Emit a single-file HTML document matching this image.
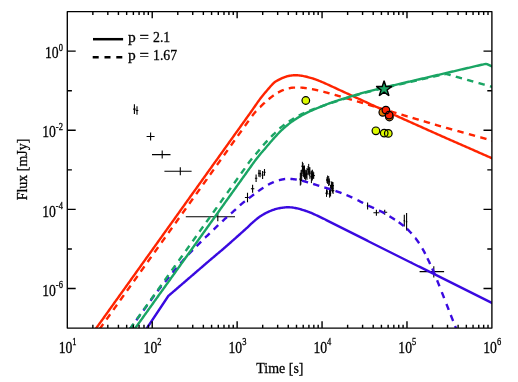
<!DOCTYPE html>
<html><head><meta charset="utf-8"><title>Light curves</title>
<style>html,body{margin:0;padding:0;background:#fff}svg{display:block}</style></head>
<body>
<svg width="518" height="382" viewBox="0 0 518 382">
<rect width="518" height="382" fill="#fff"/>
<defs><clipPath id="c"><rect x="67.30" y="11.57" width="424.60" height="316.53"/></clipPath></defs>
<g stroke="#000" stroke-width="1.0" fill="none">
<path d="M299.1 179.1H301.5M300.3 172.7V185.6"/>
<path d="M299.9 180.5H301.9M300.9 176.3V184.7"/>
<path d="M300.5 175.1H302.9M301.7 169.7V180.6"/>
<path d="M300.1 173.9H302.1M301.1 170.1V177.6"/>
<path d="M301.2 166.2H303.6M302.4 161.8V170.6"/>
<path d="M302.0 166.4H304.0M303.0 163.0V169.9"/>
<path d="M302.2 171.7H304.6M303.4 166.0V177.3"/>
<path d="M301.8 170.3H303.8M302.8 166.5V174.0"/>
<path d="M303.3 172.2H305.7M304.5 165.5V178.9"/>
<path d="M302.9 171.4H304.9M303.9 166.8V176.0"/>
<path d="M304.5 175.1H306.9M305.7 169.7V180.6"/>
<path d="M304.1 176.1H306.1M305.1 173.0V179.3"/>
<path d="M305.8 173.9H308.2M307.0 168.0V179.8"/>
<path d="M305.4 174.3H307.4M306.4 170.2V178.4"/>
<path d="M307.5 169.4H309.9M308.7 163.9V174.8"/>
<path d="M307.1 169.6H309.1M308.1 166.0V173.1"/>
<path d="M308.7 173.1H311.1M309.9 167.2V178.9"/>
<path d="M308.3 171.7H310.3M309.3 167.2V176.2"/>
<path d="M310.2 176.8H312.6M311.4 170.6V183.1"/>
<path d="M311.0 176.6H313.0M312.0 172.3V180.9"/>
<path d="M311.2 174.8H313.6M312.4 169.7V179.8"/>
<path d="M312.0 174.9H314.0M313.0 171.3V178.6"/>
<path d="M312.5 175.6H314.9M313.7 172.2V178.9"/>
<path d="M312.1 175.8H314.1M313.1 173.4V178.2"/>
<path d="M325.3 193.2H327.7M326.5 189.4V196.9"/>
<path d="M326.1 191.9H328.1M327.1 189.2V194.7"/>
<path d="M326.4 179.7H328.8M327.6 175.5V183.9"/>
<path d="M326.0 180.1H328.0M327.0 177.2V182.9"/>
<path d="M327.5 181.0H329.9M328.7 176.0V186.0"/>
<path d="M328.3 181.8H330.3M329.3 178.5V185.2"/>
<path d="M328.4 193.8H330.8M329.6 189.8V197.7"/>
<path d="M329.2 193.3H331.2M330.2 190.9V195.8"/>
<path d="M329.4 190.7H331.8M330.6 184.8V196.5"/>
<path d="M329.0 191.2H331.0M330.0 187.7V194.8"/>
<path d="M330.2 185.6H332.6M331.4 181.4V189.8"/>
<path d="M331.0 185.7H333.0M332.0 182.4V188.9"/>
<path d="M331.2 186.2H333.6M332.4 181.8V190.6"/>
<path d="M332.0 185.6H334.0M333.0 182.1V189.1"/>
<path d="M331.9 190.7H334.3M333.1 187.3V194.0"/>
<path d="M331.5 190.7H333.5M332.5 188.7V192.7"/>
</g>
<g stroke="#000" stroke-width="1.1" fill="none">
<path d="M133.1 109.1H135.7M134.4 104.3V113.9"/>
<path d="M135.7 110.5H138.3M137.0 106.2V114.8"/>
<path d="M146.6 136.5H154.6M150.6 132.5V140.5"/>
<path d="M152.0 154.6H170.5M162.2 150.6V158.6"/>
<path d="M164.4 171.3H191.6M180.3 167.3V175.3"/>
<path d="M185.8 216.7H235.0M217.8 212.2V221.2"/>
<path d="M244.9 197.5H250.1M247.5 192.8V202.2"/>
<path d="M250.9 188.7H254.3M252.6 184.7V192.7"/>
<path d="M254.9 178.3H257.3M256.1 174.5V182.1"/>
<path d="M257.9 173.2H259.9M258.9 169.7V176.7"/>
<path d="M259.1 173.6H261.1M260.1 170.0V177.2"/>
<path d="M261.6 175.1H263.6M262.6 171.1V179.1"/>
<path d="M263.5 172.4H265.5M264.5 169.0V175.8"/>
<path d="M366.8 205.9H368.4M367.6 202.4V209.4"/>
<path d="M373.4 212.7H379.4M376.4 209.7V215.7"/>
<path d="M382.2 212.2H387.2M384.7 209.7V214.7"/>
<path d="M403.5 220.7H405.1M404.3 214.8V226.6"/>
<path d="M405.8 221.7H407.4M406.6 213.0V230.4"/>
<path d="M419.6 271.6H444.1M433.8 266.3V277.4"/>
</g>
<g clip-path="url(#c)" fill="none" stroke-width="2.40" stroke-linejoin="round">
<path d="M141.00 337.04 L168.30 296.00 L169.30 295.14 L170.30 294.28 L171.30 293.42 L172.30 292.55 L173.30 291.69 L174.30 290.83 L175.30 289.97 L176.30 289.11 L177.30 288.25 L178.30 287.39 L179.30 286.53 L180.30 285.66 L181.30 284.80 L182.30 283.94 L183.30 283.08 L184.30 282.22 L185.30 281.36 L186.30 280.50 L187.30 279.64 L188.30 278.77 L189.30 277.91 L190.30 277.05 L191.30 276.19 L192.30 275.33 L193.30 274.47 L194.30 273.61 L195.30 272.74 L196.30 271.88 L197.30 271.02 L198.30 270.16 L199.30 269.30 L200.30 268.44 L201.30 267.58 L202.30 266.72 L203.30 265.85 L204.30 264.99 L205.30 264.13 L206.30 263.26 L207.30 262.40 L208.30 261.54 L209.30 260.69 L210.30 259.83 L211.30 258.99 L212.30 258.14 L213.30 257.30 L214.30 256.46 L215.30 255.62 L216.30 254.78 L217.30 253.94 L218.30 253.10 L219.30 252.26 L220.30 251.42 L221.30 250.57 L222.30 249.72 L223.30 248.86 L224.30 247.99 L225.30 247.13 L226.30 246.26 L227.30 245.38 L228.30 244.50 L229.30 243.62 L230.30 242.74 L231.30 241.85 L232.30 240.97 L233.30 240.08 L234.30 239.19 L235.30 238.30 L236.30 237.41 L237.30 236.52 L238.30 235.63 L239.30 234.74 L240.30 233.85 L241.30 232.96 L242.30 232.06 L243.30 231.16 L244.30 230.26 L245.30 229.35 L246.30 228.43 L247.30 227.52 L248.30 226.57 L249.30 225.62 L250.30 224.66 L251.30 223.73 L252.30 222.83 L253.30 221.95 L254.30 221.06 L255.30 220.19 L256.30 219.35 L257.30 218.53 L258.30 217.76 L259.30 217.04 L260.30 216.36 L261.30 215.71 L262.30 215.07 L263.30 214.46 L264.30 213.88 L265.30 213.32 L266.30 212.79 L267.30 212.30 L268.30 211.84 L269.30 211.41 L270.30 211.00 L271.30 210.60 L272.30 210.22 L273.30 209.86 L274.30 209.52 L275.30 209.21 L276.30 208.93 L277.30 208.68 L278.30 208.44 L279.30 208.22 L280.30 208.02 L281.30 207.84 L282.30 207.69 L283.30 207.57 L284.30 207.45 L285.30 207.34 L286.30 207.26 L287.30 207.21 L288.30 207.21 L289.30 207.25 L290.30 207.33 L291.30 207.43 L292.30 207.53 L293.30 207.66 L294.30 207.82 L295.30 208.00 L296.30 208.20 L297.30 208.41 L298.30 208.65 L299.30 208.92 L300.30 209.20 L301.30 209.50 L302.30 209.80 L303.30 210.10 L304.30 210.42 L305.30 210.74 L306.30 211.08 L307.30 211.42 L308.30 211.79 L309.30 212.17 L310.30 212.56 L311.30 212.98 L312.30 213.40 L313.30 213.84 L314.30 214.29 L315.30 214.75 L316.30 215.22 L317.30 215.68 L318.30 216.16 L319.30 216.63 L320.30 217.10 L321.30 217.58 L322.30 218.06 L323.30 218.55 L324.30 219.05 L325.30 219.55 L326.30 220.06 L327.30 220.57 L328.30 221.08 L329.30 221.59 L330.30 222.09 L331.30 222.60 L332.30 223.10 L333.30 223.60 L334.30 224.10 L335.30 224.60 L336.30 225.10 L337.30 225.60 L338.30 226.10 L339.30 226.60 L340.30 227.10 L341.30 227.60 L342.30 228.10 L343.30 228.60 L344.30 229.10 L345.30 229.60 L346.30 230.10 L347.30 230.60 L348.30 231.10 L349.30 231.59 L350.30 232.09 L351.30 232.59 L352.30 233.09 L353.30 233.59 L354.30 234.10 L355.30 234.60 L356.30 235.10 L357.30 235.61 L358.30 236.12 L359.30 236.63 L360.30 237.13 L361.30 237.64 L362.30 238.15 L363.30 238.66 L364.30 239.17 L365.30 239.68 L366.30 240.18 L367.30 240.69 L368.30 241.20 L369.30 241.71 L370.30 242.22 L371.30 242.73 L372.30 243.23 L373.30 243.74 L374.30 244.25 L375.30 244.75 L376.30 245.25 L377.30 245.75 L378.30 246.25 L379.30 246.75 L380.30 247.25 L381.30 247.74 L382.30 248.24 L383.30 248.74 L384.30 249.24 L385.30 249.74 L386.30 250.24 L387.30 250.74 L388.30 251.23 L389.30 251.73 L390.30 252.23 L391.30 252.73 L392.30 253.23 L393.30 253.73 L394.30 254.23 L395.30 254.73 L396.30 255.22 L397.30 255.72 L398.30 256.22 L399.30 256.72 L400.30 257.22 L401.30 257.72 L402.30 258.22 L403.30 258.72 L404.30 259.21 L405.30 259.71 L406.30 260.21 L407.30 260.71 L408.30 261.21 L409.30 261.71 L410.30 262.21 L411.30 262.70 L412.30 263.20 L413.30 263.70 L414.30 264.20 L415.30 264.70 L416.30 265.20 L417.30 265.70 L418.30 266.20 L419.30 266.69 L420.30 267.19 L421.30 267.69 L422.30 268.19 L423.30 268.69 L424.30 269.19 L425.30 269.69 L426.30 270.19 L427.30 270.68 L428.30 271.18 L429.30 271.68 L430.30 272.18 L431.30 272.68 L432.30 273.18 L433.30 273.68 L434.30 274.17 L435.30 274.67 L436.30 275.17 L437.30 275.67 L438.30 276.17 L439.30 276.67 L440.30 277.17 L441.30 277.67 L442.30 278.16 L443.30 278.66 L444.30 279.16 L445.30 279.66 L446.30 280.16 L447.30 280.66 L448.30 281.16 L449.30 281.66 L450.30 282.15 L451.30 282.65 L452.30 283.15 L453.30 283.65 L454.30 284.15 L455.30 284.65 L456.30 285.15 L457.30 285.64 L458.30 286.14 L459.30 286.64 L460.30 287.14 L461.30 287.64 L462.30 288.14 L463.30 288.64 L464.30 289.14 L465.30 289.63 L466.30 290.13 L467.30 290.63 L468.30 291.13 L469.30 291.63 L470.30 292.13 L471.30 292.63 L472.30 293.13 L473.30 293.62 L474.30 294.12 L475.30 294.62 L476.30 295.12 L477.30 295.62 L478.30 296.12 L479.30 296.62 L480.30 297.12 L481.30 297.61 L482.30 298.11 L483.30 298.61 L484.30 299.11 L485.30 299.61 L486.30 300.11 L487.30 300.61 L488.30 301.11 L489.30 301.61 L490.30 302.11 L491.30 302.60 L492.30 303.10 L493.30 303.59 L494.30 304.08 L495.30 304.56 L496.00 304.90" stroke="#3a0ae0"/>
<path d="M124.88 336.10 L125.13 335.75 L125.38 335.40 L125.63 335.05 L125.88 334.70 L126.13 334.35 L126.20 334.24M129.37 329.80 L129.38 329.80 L129.63 329.45 L129.88 329.11 L130.13 328.76 L130.38 328.41 L130.63 328.06 L130.88 327.72 L131.13 327.37 L131.38 327.02 L131.63 326.68 L131.88 326.33 L132.13 325.98 L132.38 325.64 L132.63 325.29 L132.88 324.95 L133.12 324.61M136.32 320.20 L136.38 320.12 L136.63 319.78 L136.88 319.43 L137.13 319.09 L137.38 318.74 L137.63 318.40 L137.88 318.06 L138.13 317.71 L138.38 317.37 L138.63 317.03 L138.88 316.68 L139.13 316.34 L139.38 316.00 L139.63 315.66 L139.88 315.31 L140.08 315.03M143.31 310.61 L143.38 310.52 L143.63 310.18 L143.88 309.84 L144.13 309.49 L144.38 309.15 L144.63 308.81 L144.88 308.47 L145.13 308.13 L145.38 307.78 L145.63 307.44 L145.88 307.10 L146.13 306.75 L146.38 306.41 L146.63 306.07 L146.88 305.72 L147.08 305.44M150.42 300.81 L150.63 300.53 L150.88 300.18 L151.13 299.84 L151.38 299.49 L151.63 299.15 L151.88 298.80 L152.13 298.46 L152.38 298.12 L152.63 297.77 L152.88 297.43 L153.13 297.09 L153.38 296.75 L153.63 296.41 L153.88 296.06 L154.13 295.72 L154.19 295.64M157.52 291.19 L157.63 291.05 L157.88 290.72 L158.13 290.40 L158.38 290.07 L158.63 289.75 L158.88 289.43 L159.13 289.11 L159.38 288.79 L159.63 288.47 L159.88 288.16 L160.13 287.85 L160.38 287.53 L160.63 287.22 L160.88 286.91 L161.13 286.60 L161.38 286.30 L161.48 286.17M165.01 281.88 L165.13 281.75 L165.38 281.44 L165.63 281.14 L165.88 280.84 L166.13 280.53 L166.38 280.23 L166.63 279.92 L166.88 279.62 L167.13 279.31 L167.38 279.01 L167.63 278.70 L167.88 278.40 L168.13 278.09 L168.38 277.79 L168.63 277.48 L168.88 277.18 L169.07 276.93M172.61 272.65 L172.63 272.63 L172.88 272.32 L173.13 272.02 L173.38 271.73 L173.63 271.43 L173.88 271.13 L174.13 270.83 L174.38 270.53 L174.63 270.23 L174.88 269.94 L175.13 269.64 L175.38 269.34 L175.63 269.05 L175.88 268.75 L176.13 268.45 L176.38 268.16 L176.63 267.86 L176.72 267.75M180.34 263.53 L180.38 263.48 L180.63 263.20 L180.88 262.91 L181.13 262.63 L181.38 262.34 L181.63 262.06 L181.88 261.77 L182.13 261.49 L182.38 261.21 L182.63 260.92 L182.88 260.64 L183.13 260.36 L183.38 260.08 L183.63 259.80 L183.88 259.51 L184.13 259.23 L184.38 258.95 L184.57 258.73M188.31 254.62 L188.38 254.55 L188.63 254.28 L188.88 254.02 L189.13 253.75 L189.38 253.48 L189.63 253.21 L189.88 252.95 L190.13 252.68 L190.38 252.42 L190.63 252.16 L190.88 251.89 L191.13 251.63 L191.38 251.37 L191.63 251.11 L191.88 250.85 L192.13 250.59 L192.38 250.34 L192.63 250.08 L192.72 249.98M196.60 246.07 L196.63 246.04 L196.88 245.79 L197.13 245.55 L197.38 245.30 L197.63 245.05 L197.88 244.80 L198.13 244.55 L198.38 244.31 L198.63 244.06 L198.88 243.81 L199.13 243.56 L199.38 243.32 L199.63 243.07 L199.88 242.82 L200.13 242.57 L200.38 242.33 L200.63 242.08 L200.88 241.84 L201.13 241.59 L201.15 241.57M205.09 237.73 L205.13 237.70 L205.38 237.46 L205.63 237.22 L205.88 236.97 L206.13 236.73 L206.38 236.49 L206.63 236.25 L206.88 236.01 L207.13 235.77 L207.38 235.53 L207.63 235.29 L207.88 235.05 L208.13 234.81 L208.38 234.57 L208.63 234.33 L208.88 234.09 L209.13 233.86 L209.38 233.62 L209.63 233.38 L209.71 233.30M213.65 229.53 L213.88 229.31 L214.13 229.07 L214.38 228.83 L214.63 228.60 L214.88 228.36 L215.13 228.12 L215.38 227.88 L215.63 227.64 L215.88 227.40 L216.13 227.16 L216.38 226.92 L216.63 226.68 L216.88 226.44 L217.13 226.21 L217.38 225.97 L217.63 225.73 L217.88 225.49 L218.13 225.25 L218.28 225.11M222.25 221.37 L222.38 221.25 L222.63 221.02 L222.88 220.79 L223.13 220.56 L223.38 220.32 L223.63 220.09 L223.88 219.86 L224.13 219.63 L224.38 219.40 L224.63 219.18 L224.88 218.95 L225.13 218.72 L225.38 218.49 L225.63 218.27 L225.88 218.04 L226.13 217.82 L226.38 217.59 L226.63 217.37 L226.88 217.15 L226.98 217.06M231.10 213.42 L231.13 213.40 L231.38 213.18 L231.63 212.96 L231.88 212.74 L232.13 212.51 L232.38 212.29 L232.63 212.07 L232.88 211.85 L233.13 211.62 L233.38 211.40 L233.63 211.18 L233.88 210.95 L234.13 210.72 L234.38 210.50 L234.63 210.27 L234.88 210.04 L235.13 209.81 L235.38 209.58 L235.63 209.34 L235.85 209.13M239.89 205.40 L240.13 205.18 L240.38 204.96 L240.63 204.74 L240.88 204.52 L241.13 204.30 L241.38 204.08 L241.63 203.87 L241.88 203.66 L242.13 203.44 L242.38 203.24 L242.63 203.03 L242.88 202.82 L243.13 202.62 L243.38 202.42 L243.63 202.22 L243.88 202.02 L244.13 201.82 L244.38 201.62 L244.63 201.43 L244.79 201.30M248.92 198.18 L249.13 198.02 L249.38 197.84 L249.63 197.65 L249.88 197.46 L250.13 197.28 L250.38 197.09 L250.63 196.90 L250.88 196.72 L251.13 196.53 L251.38 196.34 L251.63 196.15 L251.88 195.97 L252.13 195.78 L252.38 195.59 L252.63 195.40 L252.88 195.21 L253.13 195.02 L253.38 194.83 L253.63 194.63 L253.88 194.44 L254.03 194.33M258.17 191.23 L258.38 191.08 L258.63 190.90 L258.88 190.72 L259.13 190.55 L259.38 190.37 L259.63 190.20 L259.88 190.02 L260.13 189.85 L260.38 189.68 L260.63 189.52 L260.88 189.35 L261.13 189.18 L261.38 189.02 L261.63 188.85 L261.88 188.68 L262.13 188.52 L262.38 188.35 L262.63 188.19 L262.88 188.02 L263.13 187.86 L263.38 187.69 L263.47 187.63M268.04 184.79 L268.13 184.74 L268.38 184.60 L268.63 184.46 L268.88 184.32 L269.13 184.19 L269.38 184.05 L269.63 183.92 L269.88 183.79 L270.13 183.67 L270.38 183.54 L270.63 183.42 L270.88 183.30 L271.13 183.19 L271.38 183.07 L271.63 182.96 L271.88 182.84 L272.13 182.73 L272.38 182.62 L272.63 182.50 L272.88 182.39 L273.13 182.28 L273.38 182.17 L273.63 182.06 L273.79 181.99M278.88 180.23 L279.13 180.17 L279.38 180.11 L279.63 180.06 L279.88 180.00 L280.13 179.94 L280.38 179.88 L280.63 179.83 L280.88 179.77 L281.13 179.71 L281.38 179.66 L281.63 179.60 L281.88 179.55 L282.13 179.50 L282.38 179.44 L282.63 179.39 L282.88 179.34 L283.13 179.29 L283.38 179.25 L283.63 179.20 L283.88 179.16 L284.13 179.12 L284.38 179.08 L284.63 179.04 L284.88 179.01 L285.13 178.97 L285.15 178.97M290.41 178.90 L290.63 178.91 L290.88 178.93 L291.13 178.95 L291.38 178.97 L291.63 179.00 L291.88 179.02 L292.13 179.04 L292.38 179.07 L292.63 179.09 L292.88 179.12 L293.13 179.15 L293.38 179.18 L293.63 179.20 L293.88 179.23 L294.13 179.26 L294.38 179.29 L294.63 179.32 L294.88 179.35 L295.13 179.39 L295.38 179.42 L295.63 179.45 L295.88 179.48 L296.13 179.51 L296.38 179.55 L296.63 179.58 L296.77 179.60M301.92 180.67 L302.13 180.72 L302.38 180.79 L302.63 180.86 L302.88 180.93 L303.13 181.00 L303.38 181.07 L303.63 181.14 L303.88 181.21 L304.13 181.29 L304.38 181.36 L304.63 181.44 L304.88 181.51 L305.13 181.58 L305.38 181.66 L305.63 181.73 L305.88 181.81 L306.13 181.88 L306.38 181.96 L306.63 182.03 L306.88 182.10 L307.13 182.18 L307.38 182.25 L307.63 182.32 L307.88 182.40 L308.07 182.45M313.15 183.95 L313.38 184.02 L313.63 184.10 L313.88 184.18 L314.13 184.26 L314.38 184.34 L314.63 184.41 L314.88 184.49 L315.13 184.57 L315.38 184.65 L315.63 184.73 L315.88 184.81 L316.13 184.89 L316.38 184.97 L316.63 185.05 L316.88 185.13 L317.13 185.21 L317.38 185.29 L317.63 185.37 L317.88 185.44 L318.13 185.52 L318.38 185.60 L318.63 185.68 L318.88 185.76 L319.13 185.84 L319.26 185.88M324.33 187.41 L324.38 187.42 L324.63 187.50 L324.88 187.57 L325.13 187.65 L325.38 187.72 L325.63 187.80 L325.88 187.87 L326.13 187.95 L326.38 188.02 L326.63 188.09 L326.88 188.17 L327.13 188.25 L327.38 188.32 L327.63 188.40 L327.88 188.47 L328.13 188.55 L328.38 188.62 L328.63 188.70 L328.88 188.78 L329.13 188.85 L329.38 188.93 L329.63 189.01 L329.88 189.09 L330.13 189.17 L330.38 189.25 L330.46 189.27M335.50 190.94 L335.63 190.98 L335.88 191.07 L336.13 191.15 L336.38 191.24 L336.63 191.32 L336.88 191.41 L337.13 191.50 L337.38 191.58 L337.63 191.67 L337.88 191.76 L338.13 191.85 L338.38 191.94 L338.63 192.03 L338.88 192.12 L339.13 192.21 L339.38 192.30 L339.63 192.39 L339.88 192.48 L340.13 192.57 L340.38 192.66 L340.63 192.75 L340.88 192.84 L341.13 192.94 L341.38 193.03 L341.52 193.09M346.46 195.04 L346.63 195.11 L346.88 195.21 L347.13 195.32 L347.38 195.43 L347.63 195.53 L347.88 195.64 L348.13 195.75 L348.38 195.85 L348.63 195.96 L348.88 196.07 L349.13 196.18 L349.38 196.29 L349.63 196.40 L349.88 196.51 L350.13 196.62 L350.38 196.74 L350.63 196.85 L350.88 196.96 L351.13 197.07 L351.38 197.19 L351.63 197.30 L351.88 197.41 L352.13 197.53 L352.32 197.62M357.45 200.06 L357.63 200.15 L357.88 200.28 L358.13 200.41 L358.38 200.53 L358.63 200.66 L358.88 200.80 L359.13 200.93 L359.38 201.06 L359.63 201.19 L359.88 201.32 L360.13 201.46 L360.38 201.59 L360.63 201.72 L360.88 201.86 L361.13 201.99 L361.38 202.12 L361.63 202.26 L361.88 202.39 L362.13 202.53 L362.38 202.66 L362.63 202.79 L362.88 202.93 L363.11 203.05M368.18 205.62 L368.38 205.71 L368.63 205.83 L368.88 205.94 L369.13 206.06 L369.38 206.17 L369.63 206.28 L369.88 206.39 L370.13 206.50 L370.38 206.61 L370.63 206.72 L370.88 206.83 L371.13 206.94 L371.38 207.05 L371.63 207.16 L371.88 207.26 L372.13 207.37 L372.38 207.48 L372.63 207.58 L372.88 207.69 L373.13 207.80 L373.38 207.90 L373.63 208.01 L373.88 208.12 L374.04 208.19M379.08 210.45 L379.13 210.47 L379.38 210.59 L379.63 210.71 L379.88 210.84 L380.13 210.96 L380.38 211.09 L380.63 211.22 L380.88 211.35 L381.13 211.48 L381.38 211.61 L381.63 211.74 L381.88 211.87 L382.13 212.01 L382.38 212.14 L382.63 212.28 L382.88 212.41 L383.13 212.55 L383.38 212.69 L383.63 212.82 L383.88 212.96 L384.13 213.10 L384.38 213.24 L384.63 213.38 L384.73 213.45M389.48 216.26 L389.63 216.35 L389.88 216.50 L390.13 216.65 L390.38 216.81 L390.63 216.97 L390.88 217.12 L391.13 217.28 L391.38 217.43 L391.63 217.59 L391.88 217.75 L392.13 217.91 L392.38 218.06 L392.63 218.22 L392.88 218.38 L393.13 218.54 L393.38 218.70 L393.63 218.86 L393.88 219.02 L394.13 219.18 L394.38 219.34 L394.63 219.50 L394.88 219.66 L394.90 219.67M398.63 222.18 L398.88 222.35 L399.13 222.52 L399.38 222.70 L399.63 222.88 L399.88 223.06 L400.13 223.24 L400.38 223.42 L400.63 223.60 L400.88 223.79 L401.13 223.98 L401.38 224.16 L401.63 224.35 L401.88 224.54 L402.13 224.74 L402.38 224.93 L402.63 225.12 L402.88 225.32 L403.13 225.52 L403.38 225.72 L403.63 225.92 L403.75 226.02M407.12 229.00 L407.13 229.00 L407.38 229.24 L407.63 229.48 L407.88 229.72 L408.13 229.97 L408.38 230.21 L408.63 230.46 L408.88 230.71 L409.13 230.97 L409.38 231.22 L409.63 231.48 L409.88 231.74 L410.13 232.00 L410.38 232.26 L410.63 232.53 L410.88 232.80 L411.13 233.07 L411.38 233.34 L411.59 233.58M415.37 238.09 L415.38 238.09 L415.63 238.41 L415.88 238.74 L416.13 239.06 L416.38 239.40 L416.63 239.73 L416.88 240.07 L417.13 240.41 L417.38 240.75 L417.63 241.10 L417.88 241.45 L418.13 241.80 L418.38 242.16 L418.63 242.53 L418.88 242.90 L419.12 243.27M422.22 248.28 L422.38 248.55 L422.63 248.98 L422.88 249.42 L423.13 249.86 L423.38 250.30 L423.63 250.75 L423.88 251.20 L424.13 251.66 L424.38 252.13 L424.63 252.61 L424.88 253.09 L425.13 253.58 L425.29 253.90M427.43 258.29 L427.63 258.69 L427.88 259.22 L428.13 259.74 L428.38 260.26 L428.63 260.78 L428.88 261.31 L429.13 261.83 L429.38 262.36 L429.63 262.89 L429.88 263.42 L430.13 263.96 L430.18 264.07M432.21 268.51 L432.38 268.88 L432.63 269.44 L432.88 270.01 L433.13 270.58 L433.38 271.15 L433.63 271.73 L433.88 272.31 L434.13 272.90 L434.38 273.50 L434.63 274.10 L434.75 274.38M437.11 280.27 L437.13 280.32 L437.38 280.95 L437.63 281.58 L437.88 282.22 L438.13 282.85 L438.38 283.48 L438.63 284.11 L438.88 284.74 L439.13 285.37 L439.38 286.00 L439.46 286.22M441.79 292.12 L441.88 292.34 L442.13 292.97 L442.38 293.61 L442.63 294.25 L442.88 294.89 L443.13 295.53 L443.38 296.17 L443.63 296.81 L443.88 297.44 L444.12 298.08M446.43 303.98 L446.63 304.48 L446.88 305.12 L447.13 305.75 L447.38 306.39 L447.63 307.03 L447.88 307.66 L448.13 308.30 L448.38 308.94 L448.63 309.57 L448.77 309.94M450.76 315.01 L450.88 315.31 L451.13 315.94 L451.38 316.58 L451.63 317.22 L451.88 317.86 L452.13 318.49 L452.38 319.13 L452.63 319.77 L452.88 320.40 L453.10 320.97M455.09 326.04 L455.13 326.13 L455.38 326.77 L455.63 327.40 L455.88 328.04 L456.13 328.68 L456.38 329.31 L456.63 329.95 L456.88 330.58 L457.13 331.22 L457.38 331.85 L457.43 332.00" stroke="#3a0ae0"/>
<path d="M90.58 336.10 L91.58 334.70 L92.58 333.30 L93.58 331.91 L94.58 330.51 L95.58 329.11 L96.58 327.71 L97.58 326.32 L98.58 324.92 L99.58 323.52 L100.58 322.12 L101.58 320.72 L102.58 319.33 L103.58 317.93 L104.58 316.53 L105.58 315.13 L106.58 313.74 L107.58 312.34 L108.58 310.94 L109.58 309.54 L110.58 308.14 L111.58 306.75 L112.58 305.35 L113.58 303.95 L114.58 302.55 L115.58 301.16 L116.58 299.76 L117.58 298.36 L118.58 296.96 L119.58 295.56 L120.58 294.17 L121.58 292.77 L122.58 291.37 L123.58 289.97 L124.58 288.58 L125.58 287.18 L126.58 285.78 L127.58 284.38 L128.58 282.98 L129.58 281.59 L130.58 280.19 L131.58 278.79 L132.58 277.39 L133.58 276.00 L134.58 274.60 L135.58 273.20 L136.58 271.80 L137.58 270.40 L138.58 269.01 L139.58 267.61 L140.58 266.21 L141.58 264.81 L142.58 263.42 L143.58 262.02 L144.58 260.62 L145.58 259.22 L146.58 257.82 L147.58 256.43 L148.58 255.03 L149.58 253.63 L150.58 252.23 L151.58 250.84 L152.58 249.44 L153.58 248.04 L154.58 246.64 L155.58 245.24 L156.58 243.85 L157.58 242.45 L158.58 241.05 L159.58 239.65 L160.58 238.26 L161.58 236.86 L162.58 235.46 L163.58 234.06 L164.58 232.66 L165.58 231.27 L166.58 229.87 L167.58 228.47 L168.58 227.07 L169.58 225.68 L170.58 224.28 L171.58 222.88 L172.58 221.48 L173.58 220.08 L174.58 218.69 L175.58 217.29 L176.58 215.89 L177.58 214.49 L178.58 213.10 L179.58 211.70 L180.58 210.30 L181.58 208.90 L182.58 207.51 L183.58 206.11 L184.58 204.71 L185.58 203.31 L186.58 201.91 L187.58 200.52 L188.58 199.12 L189.58 197.72 L190.58 196.32 L191.58 194.93 L192.58 193.53 L193.58 192.13 L194.58 190.73 L195.58 189.33 L196.58 187.94 L197.58 186.54 L198.58 185.14 L199.58 183.74 L200.58 182.35 L201.58 180.95 L202.58 179.55 L203.58 178.15 L204.58 176.75 L205.58 175.36 L206.58 173.96 L207.58 172.56 L208.58 171.16 L209.58 169.77 L210.58 168.37 L211.58 166.97 L212.58 165.57 L213.58 164.17 L214.58 162.78 L215.58 161.38 L216.58 159.98 L217.58 158.58 L218.58 157.19 L219.58 155.79 L220.58 154.39 L221.58 152.99 L222.58 151.59 L223.58 150.20 L224.58 148.80 L225.58 147.40 L226.58 146.00 L227.58 144.61 L228.58 143.21 L229.58 141.81 L230.58 140.41 L231.58 139.01 L232.58 137.62 L233.58 136.22 L234.58 134.82 L235.58 133.42 L236.58 132.03 L237.58 130.63 L238.58 129.23 L239.58 127.83 L240.58 126.43 L241.58 125.04 L242.58 123.64 L243.58 122.24 L244.58 120.84 L245.58 119.45 L246.58 118.05 L247.58 116.65 L248.58 115.25 L249.58 113.85 L250.58 112.45 L251.58 111.02 L252.58 109.59 L253.58 108.14 L254.58 106.70 L255.58 105.27 L256.58 103.84 L257.58 102.42 L258.58 101.02 L259.58 99.65 L260.58 98.30 L261.58 96.99 L262.58 95.71 L263.58 94.49 L264.58 93.31 L265.58 92.15 L266.58 90.99 L267.58 89.83 L268.58 88.64 L269.58 87.46 L270.58 86.31 L271.58 85.21 L272.58 84.12 L273.58 83.09 L274.58 82.22 L275.58 81.53 L276.58 80.93 L277.58 80.38 L278.58 79.86 L279.58 79.34 L280.58 78.85 L281.58 78.39 L282.58 77.97 L283.58 77.57 L284.58 77.18 L285.58 76.81 L286.58 76.48 L287.58 76.20 L288.58 75.97 L289.58 75.76 L290.58 75.58 L291.58 75.44 L292.58 75.35 L293.58 75.27 L294.58 75.22 L295.58 75.20 L296.58 75.23 L297.58 75.29 L298.58 75.37 L299.58 75.46 L300.58 75.59 L301.58 75.75 L302.58 75.92 L303.58 76.11 L304.58 76.31 L305.58 76.54 L306.58 76.78 L307.58 77.03 L308.58 77.29 L309.58 77.55 L310.58 77.83 L311.58 78.13 L312.58 78.44 L313.58 78.76 L314.58 79.10 L315.58 79.45 L316.58 79.82 L317.58 80.20 L318.58 80.60 L319.58 81.00 L320.58 81.41 L321.58 81.82 L322.58 82.24 L323.58 82.67 L324.58 83.12 L325.58 83.57 L326.58 84.03 L327.58 84.49 L328.58 84.95 L329.58 85.41 L330.58 85.86 L331.58 86.32 L332.58 86.78 L333.58 87.24 L334.58 87.70 L335.58 88.16 L336.58 88.62 L337.58 89.08 L338.58 89.54 L339.58 90.01 L340.58 90.47 L341.58 90.93 L342.58 91.39 L343.58 91.85 L344.58 92.31 L345.58 92.77 L346.58 93.23 L347.58 93.69 L348.58 94.15 L349.58 94.61 L350.58 95.06 L351.58 95.52 L352.58 95.98 L353.58 96.44 L354.58 96.90 L355.58 97.36 L356.58 97.81 L357.58 98.27 L358.58 98.73 L359.58 99.19 L360.58 99.65 L361.58 100.11 L362.58 100.57 L363.58 101.03 L364.58 101.49 L365.58 101.95 L366.58 102.42 L367.58 102.88 L368.58 103.35 L369.58 103.81 L370.58 104.27 L371.58 104.73 L372.58 105.19 L373.58 105.65 L374.58 106.11 L375.58 106.56 L376.58 107.01 L377.58 107.46 L378.58 107.91 L379.58 108.35 L380.58 108.80 L381.58 109.24 L382.58 109.69 L383.58 110.14 L384.58 110.59 L385.58 111.04 L386.58 111.48 L387.58 111.93 L388.58 112.38 L389.58 112.83 L390.58 113.27 L391.58 113.72 L392.58 114.17 L393.58 114.62 L394.58 115.06 L395.58 115.51 L396.58 115.96 L397.58 116.41 L398.58 116.86 L399.58 117.30 L400.58 117.75 L401.58 118.20 L402.58 118.65 L403.58 119.09 L404.58 119.54 L405.58 119.99 L406.58 120.44 L407.58 120.88 L408.58 121.33 L409.58 121.78 L410.58 122.23 L411.58 122.68 L412.58 123.12 L413.58 123.57 L414.58 124.02 L415.58 124.47 L416.58 124.91 L417.58 125.36 L418.58 125.81 L419.58 126.26 L420.58 126.70 L421.58 127.15 L422.58 127.60 L423.58 128.05 L424.58 128.50 L425.58 128.94 L426.58 129.39 L427.58 129.84 L428.58 130.29 L429.58 130.73 L430.58 131.18 L431.58 131.63 L432.58 132.08 L433.58 132.52 L434.58 132.97 L435.58 133.42 L436.58 133.87 L437.58 134.32 L438.58 134.77 L439.58 135.21 L440.58 135.66 L441.58 136.10 L442.58 136.54 L443.58 136.97 L444.58 137.41 L445.58 137.85 L446.58 138.29 L447.58 138.73 L448.58 139.17 L449.58 139.61 L450.58 140.05 L451.58 140.49 L452.58 140.92 L453.58 141.36 L454.58 141.80 L455.58 142.24 L456.58 142.68 L457.58 143.12 L458.58 143.56 L459.58 144.00 L460.58 144.44 L461.58 144.88 L462.58 145.32 L463.58 145.76 L464.58 146.20 L465.58 146.64 L466.58 147.08 L467.58 147.51 L468.58 147.95 L469.58 148.39 L470.58 148.83 L471.58 149.27 L472.58 149.71 L473.58 150.15 L474.58 150.59 L475.58 151.03 L476.58 151.47 L477.58 151.91 L478.58 152.35 L479.58 152.79 L480.58 153.23 L481.58 153.66 L482.58 154.10 L483.58 154.54 L484.58 154.98 L485.58 155.42 L486.58 155.86 L487.58 156.30 L488.58 156.74 L489.58 157.18 L490.58 157.62 L491.58 158.06 L492.58 158.50 L493.58 158.94 L494.58 159.38 L495.58 159.81 L496.00 160.00" stroke="#ff2400"/>
<path d="M94.58 336.10 L94.83 335.75 L95.08 335.40 L95.33 335.05 L95.58 334.70 L95.83 334.35 L96.08 334.00 L96.33 333.65 L96.37 333.59M99.54 329.16 L99.58 329.11 L99.83 328.76 L100.08 328.41 L100.33 328.06 L100.58 327.71 L100.83 327.36 L101.08 327.01 L101.33 326.67 L101.58 326.32 L101.83 325.97 L102.08 325.62 L102.33 325.27 L102.58 324.92 L102.83 324.57 L103.08 324.22 L103.27 323.95M106.44 319.52 L106.58 319.33 L106.83 318.98 L107.08 318.63 L107.33 318.28 L107.58 317.93 L107.83 317.58 L108.08 317.23 L108.33 316.88 L108.58 316.53 L108.83 316.18 L109.08 315.83 L109.33 315.48 L109.58 315.13 L109.83 314.78 L110.08 314.43 L110.16 314.32M113.29 309.95 L113.33 309.89 L113.58 309.54 L113.83 309.19 L114.08 308.84 L114.33 308.49 L114.58 308.14 L114.83 307.80 L115.08 307.45 L115.33 307.10 L115.58 306.75 L115.83 306.40 L116.08 306.05 L116.33 305.70 L116.58 305.35 L116.83 305.00 L117.01 304.74M120.14 300.37 L120.33 300.11 L120.58 299.76 L120.83 299.41 L121.08 299.06 L121.33 298.71 L121.58 298.36 L121.83 298.01 L122.08 297.66 L122.33 297.31 L122.58 296.96 L122.83 296.61 L123.08 296.26 L123.33 295.91 L123.58 295.56 L123.83 295.22 L123.86 295.17M126.99 290.80 L127.08 290.67 L127.33 290.32 L127.58 289.97 L127.83 289.62 L128.08 289.27 L128.33 288.93 L128.58 288.58 L128.83 288.23 L129.08 287.88 L129.33 287.53 L129.58 287.18 L129.83 286.83 L130.08 286.48 L130.33 286.13 L130.58 285.78 L130.71 285.59M133.84 281.22 L134.08 280.89 L134.33 280.54 L134.58 280.19 L134.83 279.84 L135.08 279.49 L135.33 279.14 L135.58 278.79 L135.83 278.44 L136.08 278.09 L136.33 277.74 L136.58 277.39 L136.83 277.04 L137.08 276.69 L137.33 276.35 L137.56 276.02M140.69 271.65 L140.83 271.45 L141.08 271.10 L141.33 270.75 L141.58 270.40 L141.83 270.06 L142.08 269.71 L142.33 269.36 L142.58 269.01 L142.83 268.66 L143.08 268.31 L143.33 267.96 L143.58 267.61 L143.83 267.26 L144.08 266.91 L144.33 266.56 L144.41 266.44M147.54 262.07 L147.58 262.02 L147.83 261.67 L148.08 261.32 L148.33 260.97 L148.58 260.62 L148.83 260.27 L149.08 259.92 L149.33 259.57 L149.58 259.22 L149.83 258.87 L150.08 258.52 L150.33 258.17 L150.58 257.82 L150.83 257.48 L151.08 257.13 L151.26 256.87M154.48 252.36 L154.58 252.23 L154.83 251.88 L155.08 251.53 L155.33 251.19 L155.58 250.84 L155.83 250.49 L156.08 250.14 L156.33 249.79 L156.58 249.44 L156.83 249.09 L157.08 248.74 L157.33 248.39 L157.58 248.04 L157.83 247.69 L158.08 247.34 L158.21 247.16M161.43 242.65 L161.58 242.45 L161.83 242.10 L162.08 241.75 L162.33 241.40 L162.58 241.05 L162.83 240.70 L163.08 240.35 L163.33 240.00 L163.58 239.65 L163.83 239.30 L164.08 238.95 L164.33 238.61 L164.58 238.26 L164.83 237.91 L165.08 237.56 L165.15 237.45M168.38 232.94 L168.58 232.66 L168.83 232.32 L169.08 231.97 L169.33 231.62 L169.58 231.27 L169.83 230.92 L170.08 230.57 L170.33 230.22 L170.58 229.87 L170.83 229.52 L171.08 229.17 L171.33 228.82 L171.58 228.47 L171.83 228.12 L172.08 227.77 L172.10 227.74M175.32 223.24 L175.33 223.23 L175.58 222.88 L175.83 222.53 L176.08 222.18 L176.33 221.83 L176.58 221.48 L176.83 221.13 L177.08 220.78 L177.33 220.43 L177.58 220.08 L177.83 219.74 L178.08 219.39 L178.33 219.04 L178.58 218.69 L178.83 218.34 L179.05 218.03M182.27 213.53 L182.33 213.45 L182.58 213.10 L182.83 212.75 L183.08 212.40 L183.33 212.05 L183.58 211.70 L183.83 211.35 L184.08 211.00 L184.33 210.65 L184.58 210.30 L184.83 209.95 L185.08 209.60 L185.33 209.25 L185.58 208.90 L185.83 208.55 L185.99 208.32M189.21 203.82 L189.33 203.66 L189.58 203.31 L189.83 202.96 L190.08 202.61 L190.33 202.26 L190.58 201.91 L190.83 201.56 L191.08 201.22 L191.33 200.87 L191.58 200.52 L191.83 200.17 L192.08 199.82 L192.33 199.47 L192.58 199.12 L192.83 198.77 L192.94 198.61M196.16 194.11 L196.33 193.88 L196.58 193.53 L196.83 193.18 L197.08 192.83 L197.33 192.48 L197.58 192.13 L197.83 191.78 L198.08 191.43 L198.33 191.08 L198.58 190.73 L198.83 190.38 L199.08 190.03 L199.33 189.68 L199.58 189.33 L199.83 188.98 L199.89 188.90M203.11 184.40 L203.33 184.09 L203.58 183.74 L203.83 183.39 L204.08 183.04 L204.33 182.69 L204.58 182.35 L204.83 182.00 L205.08 181.65 L205.33 181.30 L205.58 180.95 L205.83 180.60 L206.08 180.25 L206.33 179.90 L206.58 179.55 L206.83 179.20 L206.83 179.19M210.05 174.69 L210.08 174.66 L210.33 174.31 L210.58 173.96 L210.83 173.61 L211.08 173.26 L211.33 172.91 L211.58 172.56 L211.83 172.21 L212.08 171.86 L212.33 171.51 L212.58 171.16 L212.83 170.81 L213.08 170.46 L213.33 170.11 L213.58 169.77 L213.78 169.48M217.00 164.98 L217.08 164.87 L217.33 164.52 L217.58 164.17 L217.83 163.82 L218.08 163.48 L218.33 163.13 L218.58 162.78 L218.83 162.43 L219.08 162.08 L219.33 161.73 L219.58 161.38 L219.83 161.03 L220.08 160.68 L220.33 160.33 L220.58 159.98 L220.72 159.78M223.95 155.27 L224.08 155.09 L224.33 154.74 L224.58 154.39 L224.83 154.04 L225.08 153.69 L225.33 153.34 L225.58 152.99 L225.83 152.64 L226.08 152.29 L226.33 151.94 L226.58 151.59 L226.83 151.24 L227.08 150.90 L227.33 150.55 L227.58 150.20 L227.67 150.07M230.89 145.56 L231.08 145.30 L231.33 144.95 L231.58 144.61 L231.83 144.26 L232.08 143.91 L232.33 143.56 L232.58 143.21 L232.83 142.86 L233.08 142.51 L233.33 142.16 L233.58 141.81 L233.83 141.46 L234.08 141.11 L234.33 140.76 L234.58 140.41 L234.62 140.36M237.84 135.85 L238.08 135.52 L238.33 135.17 L238.58 134.82 L238.83 134.47 L239.08 134.12 L239.33 133.77 L239.58 133.42 L239.83 133.07 L240.08 132.72 L240.33 132.37 L240.58 132.03 L240.83 131.68 L241.08 131.33 L241.33 130.98 L241.56 130.65M244.91 125.96 L245.08 125.72 L245.33 125.37 L245.58 125.02 L245.83 124.67 L246.08 124.32 L246.33 123.97 L246.58 123.62 L246.83 123.27 L247.08 122.92 L247.33 122.57 L247.58 122.22 L247.83 121.87 L248.08 121.52 L248.33 121.18 L248.58 120.83 L248.63 120.75M252.02 116.09 L252.08 116.02 L252.33 115.68 L252.58 115.35 L252.83 115.03 L253.08 114.71 L253.33 114.39 L253.58 114.08 L253.83 113.77 L254.08 113.47 L254.33 113.16 L254.58 112.86 L254.83 112.56 L255.08 112.27 L255.33 111.98 L255.58 111.69 L255.83 111.40 L256.07 111.13M260.07 107.00 L260.08 107.00 L260.33 106.76 L260.58 106.52 L260.83 106.28 L261.08 106.04 L261.33 105.81 L261.58 105.57 L261.83 105.34 L262.08 105.10 L262.33 104.87 L262.58 104.63 L262.83 104.40 L263.08 104.17 L263.33 103.93 L263.58 103.70 L263.83 103.47 L264.08 103.24 L264.33 103.01 L264.58 102.78 L264.74 102.62M268.62 99.23 L268.83 99.06 L269.08 98.86 L269.33 98.66 L269.58 98.46 L269.83 98.26 L270.08 98.06 L270.33 97.86 L270.58 97.66 L270.83 97.47 L271.08 97.28 L271.33 97.08 L271.58 96.89 L271.83 96.70 L272.08 96.52 L272.33 96.33 L272.58 96.15 L272.83 95.96 L273.08 95.78 L273.33 95.60 L273.58 95.43 L273.71 95.34M278.05 92.55 L278.08 92.54 L278.33 92.39 L278.58 92.24 L278.83 92.10 L279.08 91.96 L279.33 91.82 L279.58 91.69 L279.83 91.55 L280.08 91.43 L280.33 91.30 L280.58 91.18 L280.83 91.06 L281.08 90.94 L281.33 90.83 L281.58 90.72 L281.83 90.62 L282.08 90.51 L282.33 90.40 L282.58 90.30 L282.83 90.20 L283.08 90.10 L283.33 90.00 L283.58 89.90 L283.81 89.80M288.76 88.36 L288.83 88.35 L289.08 88.29 L289.33 88.24 L289.58 88.18 L289.83 88.13 L290.08 88.08 L290.33 88.03 L290.58 87.98 L290.83 87.93 L291.08 87.89 L291.33 87.84 L291.58 87.80 L291.83 87.77 L292.08 87.73 L292.33 87.70 L292.58 87.68 L292.83 87.65 L293.08 87.63 L293.33 87.62 L293.58 87.61 L293.83 87.60 L294.08 87.60 L294.33 87.60 L294.58 87.60 L294.83 87.60 L295.08 87.60 L295.09 87.60M300.38 87.60 L300.58 87.60 L300.83 87.61 L301.08 87.61 L301.33 87.63 L301.58 87.64 L301.83 87.65 L302.08 87.67 L302.33 87.69 L302.58 87.71 L302.83 87.74 L303.08 87.76 L303.33 87.79 L303.58 87.82 L303.83 87.85 L304.08 87.88 L304.33 87.91 L304.58 87.94 L304.83 87.97 L305.08 88.00 L305.33 88.04 L305.58 88.07 L305.83 88.10 L306.08 88.13 L306.33 88.17 L306.58 88.20 L306.75 88.22M311.96 89.10 L312.08 89.12 L312.33 89.17 L312.58 89.21 L312.83 89.26 L313.08 89.31 L313.33 89.36 L313.58 89.41 L313.83 89.47 L314.08 89.52 L314.33 89.57 L314.58 89.62 L314.83 89.68 L315.08 89.73 L315.33 89.79 L315.58 89.84 L315.83 89.90 L316.08 89.95 L316.33 90.01 L316.58 90.07 L316.83 90.12 L317.08 90.18 L317.33 90.24 L317.58 90.30 L317.83 90.36 L318.08 90.42 L318.22 90.45M323.35 91.74 L323.58 91.79 L323.83 91.86 L324.08 91.92 L324.33 91.99 L324.58 92.05 L324.83 92.12 L325.08 92.18 L325.33 92.25 L325.58 92.31 L325.83 92.38 L326.08 92.44 L326.33 92.51 L326.58 92.57 L326.83 92.64 L327.08 92.70 L327.33 92.77 L327.58 92.84 L327.83 92.90 L328.08 92.97 L328.33 93.04 L328.58 93.11 L328.83 93.17 L329.08 93.24 L329.33 93.31 L329.54 93.37M334.62 94.81 L334.83 94.87 L335.08 94.94 L335.33 95.02 L335.58 95.09 L335.83 95.16 L336.08 95.23 L336.33 95.31 L336.58 95.38 L336.83 95.45 L337.08 95.52 L337.33 95.59 L337.58 95.66 L337.83 95.74 L338.08 95.81 L338.33 95.88 L338.58 95.95 L338.83 96.02 L339.08 96.10 L339.33 96.17 L339.58 96.24 L339.83 96.31 L340.08 96.39 L340.33 96.46 L340.58 96.53 L340.77 96.59M345.78 98.06 L345.83 98.07 L346.08 98.14 L346.33 98.22 L346.58 98.29 L346.83 98.36 L347.08 98.44 L347.33 98.51 L347.58 98.58 L347.83 98.66 L348.08 98.73 L348.33 98.80 L348.58 98.88 L348.83 98.95 L349.08 99.02 L349.33 99.10 L349.58 99.17 L349.83 99.24 L350.08 99.31 L350.33 99.39 L350.58 99.46 L350.83 99.53 L351.08 99.61 L351.33 99.68 L351.58 99.75 L351.83 99.82 L351.92 99.85M356.93 101.31 L357.08 101.35 L357.33 101.42 L357.58 101.50 L357.83 101.57 L358.08 101.64 L358.33 101.72 L358.58 101.79 L358.83 101.86 L359.08 101.94 L359.33 102.01 L359.58 102.09 L359.83 102.16 L360.08 102.23 L360.33 102.31 L360.58 102.38 L360.83 102.46 L361.08 102.53 L361.33 102.61 L361.58 102.68 L361.83 102.75 L362.08 102.83 L362.33 102.90 L362.58 102.98 L362.83 103.05 L363.07 103.13M368.06 104.64 L368.08 104.64 L368.33 104.72 L368.58 104.79 L368.83 104.87 L369.08 104.95 L369.33 105.02 L369.58 105.10 L369.83 105.17 L370.08 105.25 L370.33 105.33 L370.58 105.40 L370.83 105.48 L371.08 105.55 L371.33 105.63 L371.58 105.70 L371.83 105.78 L372.08 105.85 L372.33 105.93 L372.58 106.00 L372.83 106.08 L373.08 106.15 L373.33 106.23 L373.58 106.30 L373.83 106.38 L374.08 106.45 L374.19 106.49M379.19 107.97 L379.33 108.02 L379.58 108.09 L379.83 108.16 L380.08 108.24 L380.33 108.31 L380.58 108.39 L380.83 108.46 L381.08 108.54 L381.33 108.61 L381.58 108.69 L381.83 108.76 L382.08 108.84 L382.33 108.91 L382.58 108.98 L382.83 109.06 L383.08 109.13 L383.33 109.21 L383.58 109.28 L383.83 109.36 L384.08 109.43 L384.33 109.51 L384.58 109.58 L384.83 109.65 L385.08 109.73 L385.32 109.80M390.32 111.29 L390.33 111.29 L390.58 111.37 L390.83 111.44 L391.08 111.52 L391.33 111.59 L391.58 111.67 L391.83 111.74 L392.08 111.82 L392.33 111.89 L392.58 111.96 L392.83 112.04 L393.08 112.11 L393.33 112.19 L393.58 112.26 L393.83 112.34 L394.08 112.41 L394.33 112.49 L394.58 112.56 L394.83 112.64 L395.08 112.71 L395.33 112.78 L395.58 112.86 L395.83 112.93 L396.08 113.01 L396.33 113.08 L396.45 113.12M401.45 114.61 L401.58 114.65 L401.83 114.72 L402.08 114.80 L402.33 114.87 L402.58 114.95 L402.83 115.02 L403.08 115.09 L403.33 115.17 L403.58 115.24 L403.83 115.32 L404.08 115.39 L404.33 115.47 L404.58 115.54 L404.83 115.62 L405.08 115.69 L405.33 115.77 L405.58 115.84 L405.83 115.91 L406.08 115.99 L406.33 116.06 L406.58 116.14 L406.83 116.21 L407.08 116.29 L407.33 116.36 L407.58 116.44 L407.59 116.44M412.59 117.93 L412.83 118.00 L413.08 118.08 L413.33 118.15 L413.58 118.22 L413.83 118.30 L414.08 118.37 L414.33 118.45 L414.58 118.52 L414.83 118.60 L415.08 118.67 L415.33 118.75 L415.58 118.82 L415.83 118.89 L416.08 118.97 L416.33 119.04 L416.58 119.12 L416.83 119.19 L417.08 119.27 L417.33 119.34 L417.58 119.42 L417.83 119.49 L418.08 119.57 L418.33 119.64 L418.58 119.71 L418.72 119.76M423.72 121.25 L423.83 121.28 L424.08 121.35 L424.33 121.43 L424.58 121.50 L424.83 121.58 L425.08 121.65 L425.33 121.73 L425.58 121.80 L425.83 121.88 L426.08 121.95 L426.33 122.02 L426.58 122.10 L426.83 122.17 L427.08 122.25 L427.33 122.32 L427.58 122.40 L427.83 122.47 L428.08 122.55 L428.33 122.62 L428.58 122.70 L428.83 122.77 L429.08 122.84 L429.33 122.92 L429.58 122.99 L429.83 123.07 L429.85 123.08M434.85 124.57 L435.08 124.63 L435.33 124.71 L435.58 124.79 L435.83 124.86 L436.08 124.94 L436.33 125.01 L436.58 125.09 L436.83 125.16 L437.08 125.24 L437.33 125.31 L437.58 125.39 L437.83 125.46 L438.08 125.54 L438.33 125.61 L438.58 125.68 L438.83 125.76 L439.08 125.83 L439.33 125.90 L439.58 125.98 L439.83 126.05 L440.08 126.12 L440.33 126.19 L440.58 126.26 L440.83 126.34 L440.99 126.38M446.02 127.77 L446.08 127.79 L446.33 127.86 L446.58 127.92 L446.83 127.99 L447.08 128.06 L447.33 128.13 L447.58 128.20 L447.83 128.27 L448.08 128.34 L448.33 128.41 L448.58 128.48 L448.83 128.55 L449.08 128.62 L449.33 128.69 L449.58 128.76 L449.83 128.83 L450.08 128.90 L450.33 128.97 L450.58 129.03 L450.83 129.10 L451.08 129.17 L451.33 129.24 L451.58 129.31 L451.83 129.38 L452.08 129.45 L452.18 129.48M457.45 130.94 L457.58 130.98 L457.83 131.05 L458.08 131.12 L458.33 131.18 L458.58 131.25 L458.83 131.32 L459.08 131.39 L459.33 131.46 L459.58 131.53 L459.83 131.60 L460.08 131.67 L460.33 131.74 L460.58 131.81 L460.83 131.88 L461.08 131.95 L461.33 132.02 L461.58 132.09 L461.83 132.16 L462.08 132.23 L462.33 132.29 L462.58 132.36 L462.83 132.43 L463.08 132.50 L463.33 132.57 L463.58 132.64 L463.62 132.65M468.88 134.11 L469.08 134.17 L469.33 134.24 L469.58 134.31 L469.83 134.38 L470.08 134.44 L470.33 134.51 L470.58 134.58 L470.83 134.65 L471.08 134.72 L471.33 134.79 L471.58 134.86 L471.83 134.93 L472.08 135.00 L472.33 135.07 L472.58 135.14 L472.83 135.21 L473.08 135.28 L473.33 135.35 L473.58 135.42 L473.83 135.49 L474.08 135.55 L474.33 135.62 L474.58 135.69 L474.83 135.76 L475.05 135.82M480.32 137.29 L480.33 137.29 L480.58 137.36 L480.83 137.43 L481.08 137.50 L481.33 137.57 L481.58 137.64 L481.83 137.71 L482.08 137.77 L482.33 137.84 L482.58 137.91 L482.83 137.98 L483.08 138.05 L483.33 138.12 L483.58 138.19 L483.83 138.26 L484.08 138.33 L484.33 138.40 L484.58 138.47 L484.83 138.54 L485.08 138.61 L485.33 138.68 L485.58 138.75 L485.83 138.82 L486.08 138.88 L486.33 138.95 L486.48 139.00M491.73 140.45 L491.83 140.48 L492.08 140.55 L492.33 140.62 L492.58 140.68 L492.83 140.75 L493.08 140.82 L493.33 140.89 L493.58 140.95 L493.83 141.02 L494.08 141.09 L494.33 141.15 L494.58 141.22 L494.83 141.29 L495.08 141.35 L495.33 141.42 L495.58 141.49 L495.83 141.55 L496.00 141.60" stroke="#ff2400"/>
<path d="M129.58 336.10 L130.58 334.70 L131.58 333.30 L132.58 331.91 L133.58 330.51 L134.58 329.11 L135.58 327.71 L136.58 326.32 L137.58 324.92 L138.58 323.52 L139.58 322.12 L140.58 320.72 L141.58 319.33 L142.58 317.93 L143.58 316.53 L144.58 315.13 L145.58 313.74 L146.58 312.34 L147.58 310.94 L148.58 309.54 L149.58 308.14 L150.58 306.75 L151.58 305.35 L152.58 303.95 L153.58 302.55 L154.58 301.16 L155.58 299.76 L156.58 298.36 L157.58 296.96 L158.58 295.56 L159.58 294.17 L160.58 292.77 L161.58 291.37 L162.58 289.97 L163.58 288.58 L164.58 287.18 L165.58 285.78 L166.58 284.38 L167.58 282.98 L168.58 281.59 L169.58 280.19 L170.58 278.79 L171.58 277.39 L172.58 276.00 L173.58 274.60 L174.58 273.20 L175.58 271.80 L176.58 270.40 L177.58 269.01 L178.58 267.61 L179.58 266.21 L180.58 264.81 L181.58 263.42 L182.58 262.02 L183.58 260.62 L184.58 259.22 L185.58 257.82 L186.58 256.43 L187.58 255.03 L188.58 253.63 L189.58 252.23 L190.58 250.84 L191.58 249.44 L192.58 248.04 L193.58 246.64 L194.58 245.24 L195.58 243.85 L196.58 242.45 L197.58 241.05 L198.58 239.65 L199.58 238.26 L200.58 236.86 L201.58 235.46 L202.58 234.06 L203.58 232.66 L204.58 231.27 L205.58 229.87 L206.58 228.47 L207.58 227.07 L208.58 225.68 L209.58 224.28 L210.58 222.88 L211.58 221.48 L212.58 220.08 L213.58 218.69 L214.58 217.29 L215.58 215.89 L216.58 214.49 L217.58 213.10 L218.58 211.70 L219.58 210.30 L220.58 208.90 L221.58 207.51 L222.58 206.11 L223.58 204.71 L224.58 203.31 L225.58 201.91 L226.58 200.52 L227.58 199.12 L228.58 197.72 L229.58 196.32 L230.58 194.93 L231.58 193.53 L232.58 192.13 L233.58 190.73 L234.58 189.33 L235.58 187.94 L236.58 186.54 L237.58 185.14 L238.58 183.74 L239.58 182.35 L240.58 180.95 L241.58 179.55 L242.58 178.15 L243.58 176.75 L244.58 175.36 L245.58 173.96 L246.58 172.56 L247.58 171.16 L248.58 169.76 L249.58 168.35 L250.58 166.94 L251.58 165.53 L252.58 164.13 L253.58 162.75 L254.58 161.40 L255.58 160.06 L256.58 158.73 L257.58 157.42 L258.58 156.15 L259.58 154.91 L260.58 153.72 L261.58 152.58 L262.58 151.45 L263.58 150.32 L264.58 149.16 L265.58 147.97 L266.58 146.78 L267.58 145.59 L268.58 144.41 L269.58 143.24 L270.58 142.08 L271.58 140.93 L272.58 139.80 L273.58 138.67 L274.58 137.54 L275.58 136.43 L276.58 135.33 L277.58 134.26 L278.58 133.22 L279.58 132.21 L280.58 131.22 L281.58 130.25 L282.58 129.30 L283.58 128.38 L284.58 127.48 L285.58 126.62 L286.58 125.77 L287.58 124.95 L288.58 124.15 L289.58 123.37 L290.58 122.61 L291.58 121.88 L292.58 121.17 L293.58 120.47 L294.58 119.79 L295.58 119.13 L296.58 118.48 L297.58 117.86 L298.58 117.25 L299.58 116.66 L300.58 116.09 L301.58 115.53 L302.58 114.98 L303.58 114.45 L304.58 113.93 L305.58 113.41 L306.58 112.91 L307.58 112.42 L308.58 111.95 L309.58 111.48 L310.58 111.02 L311.58 110.57 L312.58 110.12 L313.58 109.68 L314.58 109.25 L315.58 108.82 L316.58 108.40 L317.58 107.99 L318.58 107.58 L319.58 107.17 L320.58 106.77 L321.58 106.37 L322.58 105.97 L323.58 105.57 L324.58 105.17 L325.58 104.78 L326.58 104.39 L327.58 104.00 L328.58 103.62 L329.58 103.25 L330.58 102.89 L331.58 102.54 L332.58 102.20 L333.58 101.86 L334.58 101.52 L335.58 101.19 L336.58 100.86 L337.58 100.54 L338.58 100.21 L339.58 99.89 L340.58 99.58 L341.58 99.26 L342.58 98.95 L343.58 98.64 L344.58 98.34 L345.58 98.03 L346.58 97.72 L347.58 97.42 L348.58 97.12 L349.58 96.82 L350.58 96.52 L351.58 96.22 L352.58 95.93 L353.58 95.63 L354.58 95.33 L355.58 95.02 L356.58 94.72 L357.58 94.41 L358.58 94.11 L359.58 93.80 L360.58 93.51 L361.58 93.22 L362.58 92.94 L363.58 92.66 L364.58 92.39 L365.58 92.12 L366.58 91.85 L367.58 91.59 L368.58 91.33 L369.58 91.07 L370.58 90.82 L371.58 90.56 L372.58 90.31 L373.58 90.06 L374.58 89.81 L375.58 89.56 L376.58 89.31 L377.58 89.06 L378.58 88.82 L379.58 88.58 L380.58 88.34 L381.58 88.10 L382.58 87.86 L383.58 87.63 L384.58 87.39 L385.58 87.16 L386.58 86.92 L387.58 86.69 L388.58 86.45 L389.58 86.22 L390.58 85.98 L391.58 85.75 L392.58 85.52 L393.58 85.28 L394.58 85.05 L395.58 84.82 L396.58 84.59 L397.58 84.35 L398.58 84.12 L399.58 83.89 L400.58 83.66 L401.58 83.42 L402.58 83.19 L403.58 82.96 L404.58 82.72 L405.58 82.49 L406.58 82.26 L407.58 82.02 L408.58 81.79 L409.58 81.56 L410.58 81.33 L411.58 81.09 L412.58 80.86 L413.58 80.63 L414.58 80.39 L415.58 80.16 L416.58 79.93 L417.58 79.69 L418.58 79.46 L419.58 79.23 L420.58 79.00 L421.58 78.76 L422.58 78.53 L423.58 78.30 L424.58 78.06 L425.58 77.83 L426.58 77.60 L427.58 77.36 L428.58 77.13 L429.58 76.90 L430.58 76.67 L431.58 76.43 L432.58 76.20 L433.58 75.97 L434.58 75.73 L435.58 75.50 L436.58 75.27 L437.58 75.03 L438.58 74.80 L439.58 74.57 L440.58 74.34 L441.58 74.10 L442.58 73.87 L443.58 73.64 L444.58 73.40 L445.58 73.17 L446.58 72.94 L447.58 72.70 L448.58 72.47 L449.58 72.24 L450.58 72.01 L451.58 71.77 L452.58 71.54 L453.58 71.31 L454.58 71.07 L455.58 70.84 L456.58 70.61 L457.58 70.37 L458.58 70.14 L459.58 69.91 L460.58 69.68 L461.58 69.44 L462.58 69.21 L463.58 68.98 L464.58 68.74 L465.58 68.51 L466.58 68.28 L467.58 68.04 L468.58 67.81 L469.58 67.58 L470.58 67.35 L471.58 67.11 L472.58 66.88 L473.58 66.65 L474.58 66.41 L475.58 66.18 L476.58 65.95 L477.58 65.71 L478.58 65.48 L479.58 65.25 L480.58 65.02 L481.58 64.78 L482.58 64.55 L483.58 64.32 L484.50 64.10 L485.90 63.90 L487.00 64.10 L491.90 66.40 L496.00 68.40" stroke="#1aa564"/>
<path d="M124.78 336.10 L125.03 335.75 L125.28 335.40 L125.53 335.05 L125.78 334.70 L126.03 334.35 L126.28 334.00 L126.53 333.65 L126.78 333.30 L126.78 333.30M129.95 328.87 L130.03 328.76 L130.28 328.41 L130.53 328.06 L130.78 327.71 L131.03 327.36 L131.28 327.01 L131.53 326.67 L131.78 326.32 L132.03 325.97 L132.28 325.62 L132.53 325.27 L132.78 324.92 L133.03 324.57 L133.28 324.22 L133.53 323.87 L133.67 323.67M136.84 319.23 L137.03 318.98 L137.28 318.63 L137.53 318.28 L137.78 317.93 L138.03 317.58 L138.28 317.23 L138.53 316.88 L138.78 316.53 L139.03 316.18 L139.28 315.83 L139.53 315.48 L139.78 315.13 L140.03 314.78 L140.28 314.43 L140.53 314.09 L140.57 314.03M143.74 309.60 L143.78 309.54 L144.03 309.19 L144.28 308.84 L144.53 308.49 L144.78 308.14 L145.03 307.80 L145.28 307.45 L145.53 307.10 L145.78 306.75 L146.03 306.40 L146.28 306.05 L146.53 305.70 L146.78 305.35 L147.03 305.00 L147.28 304.65 L147.46 304.39M150.72 299.83 L150.78 299.76 L151.03 299.41 L151.28 299.06 L151.53 298.71 L151.78 298.36 L152.03 298.01 L152.28 297.66 L152.53 297.31 L152.78 296.96 L153.03 296.61 L153.28 296.26 L153.53 295.91 L153.78 295.56 L154.03 295.22 L154.28 294.87 L154.45 294.63M157.71 290.07 L157.78 289.97 L158.03 289.62 L158.28 289.27 L158.53 288.93 L158.78 288.58 L159.03 288.23 L159.28 287.88 L159.53 287.53 L159.78 287.18 L160.03 286.83 L160.28 286.48 L160.53 286.13 L160.78 285.78 L161.03 285.43 L161.28 285.08 L161.43 284.86M164.70 280.30 L164.78 280.19 L165.03 279.84 L165.28 279.49 L165.53 279.14 L165.78 278.79 L166.03 278.44 L166.28 278.09 L166.53 277.74 L166.78 277.39 L167.03 277.04 L167.28 276.69 L167.53 276.35 L167.78 276.00 L168.03 275.65 L168.28 275.30 L168.42 275.10M171.68 270.54 L171.78 270.40 L172.03 270.06 L172.28 269.71 L172.53 269.36 L172.78 269.01 L173.03 268.66 L173.28 268.31 L173.53 267.96 L173.78 267.61 L174.03 267.26 L174.28 266.91 L174.53 266.56 L174.78 266.21 L175.03 265.86 L175.28 265.51 L175.40 265.33M178.67 260.77 L178.78 260.62 L179.03 260.27 L179.28 259.92 L179.53 259.57 L179.78 259.22 L180.03 258.87 L180.28 258.52 L180.53 258.17 L180.78 257.82 L181.03 257.48 L181.28 257.13 L181.53 256.78 L181.78 256.43 L182.03 256.08 L182.28 255.73 L182.39 255.57M185.65 251.01 L185.78 250.84 L186.03 250.49 L186.28 250.14 L186.53 249.79 L186.78 249.44 L187.03 249.09 L187.28 248.74 L187.53 248.39 L187.78 248.04 L188.03 247.69 L188.28 247.34 L188.53 246.99 L188.78 246.64 L189.03 246.29 L189.28 245.94 L189.38 245.80M192.64 241.25 L192.78 241.05 L193.03 240.70 L193.28 240.35 L193.53 240.00 L193.78 239.65 L194.03 239.30 L194.28 238.95 L194.53 238.61 L194.78 238.26 L195.03 237.91 L195.28 237.56 L195.53 237.21 L195.78 236.86 L196.03 236.51 L196.28 236.16 L196.36 236.04M199.47 231.69 L199.53 231.62 L199.78 231.27 L200.03 230.92 L200.28 230.57 L200.53 230.22 L200.78 229.87 L201.03 229.52 L201.28 229.17 L201.53 228.82 L201.78 228.47 L202.03 228.12 L202.28 227.77 L202.53 227.42 L202.78 227.07 L203.03 226.72 L203.20 226.49M206.30 222.14 L206.53 221.83 L206.78 221.48 L207.03 221.13 L207.28 220.78 L207.53 220.43 L207.78 220.08 L208.03 219.74 L208.28 219.39 L208.53 219.04 L208.78 218.69 L209.03 218.34 L209.28 217.99 L209.53 217.64 L209.78 217.29 L210.03 216.94 L210.03 216.94M213.14 212.59 L213.28 212.40 L213.53 212.05 L213.78 211.70 L214.03 211.35 L214.28 211.00 L214.53 210.65 L214.78 210.30 L215.03 209.95 L215.28 209.60 L215.53 209.25 L215.78 208.90 L216.03 208.55 L216.28 208.20 L216.53 207.85 L216.78 207.51 L216.86 207.39M220.13 202.81 L220.28 202.61 L220.53 202.26 L220.78 201.91 L221.03 201.56 L221.28 201.22 L221.53 200.87 L221.78 200.52 L222.03 200.17 L222.28 199.82 L222.53 199.47 L222.78 199.12 L223.03 198.77 L223.28 198.42 L223.53 198.07 L223.78 197.72 L223.86 197.61M227.13 193.04 L227.28 192.83 L227.53 192.48 L227.78 192.13 L228.03 191.78 L228.28 191.43 L228.53 191.08 L228.78 190.73 L229.03 190.38 L229.28 190.03 L229.53 189.68 L229.78 189.33 L230.03 188.98 L230.28 188.64 L230.53 188.29 L230.78 187.94 L230.85 187.83M234.12 183.26 L234.28 183.04 L234.53 182.69 L234.78 182.35 L235.03 182.00 L235.28 181.65 L235.53 181.30 L235.78 180.95 L236.03 180.60 L236.28 180.25 L236.53 179.90 L236.78 179.55 L237.03 179.20 L237.28 178.85 L237.53 178.50 L237.78 178.15 L237.85 178.06M241.12 173.48 L241.28 173.26 L241.53 172.91 L241.78 172.56 L242.03 172.21 L242.28 171.86 L242.53 171.51 L242.78 171.16 L243.03 170.81 L243.28 170.46 L243.53 170.11 L243.78 169.77 L244.03 169.42 L244.28 169.06 L244.53 168.71 L244.78 168.35 L244.83 168.27M248.06 163.67 L248.28 163.37 L248.53 163.03 L248.78 162.68 L249.03 162.34 L249.28 162.01 L249.53 161.67 L249.78 161.34 L250.03 161.02 L250.28 160.70 L250.53 160.38 L250.78 160.06 L251.03 159.75 L251.28 159.44 L251.53 159.14 L251.78 158.83 L251.97 158.60M255.62 154.33 L255.78 154.15 L256.03 153.86 L256.28 153.57 L256.53 153.28 L256.78 152.99 L257.03 152.69 L257.28 152.40 L257.53 152.11 L257.78 151.81 L258.03 151.51 L258.28 151.21 L258.53 150.91 L258.78 150.61 L259.03 150.31 L259.28 150.01 L259.53 149.70 L259.74 149.44M263.15 145.34 L263.28 145.19 L263.53 144.90 L263.78 144.61 L264.03 144.32 L264.28 144.03 L264.53 143.75 L264.78 143.47 L265.03 143.19 L265.28 142.92 L265.53 142.64 L265.78 142.37 L266.03 142.10 L266.28 141.83 L266.53 141.56 L266.78 141.30 L267.03 141.03 L267.28 140.77 L267.45 140.59M271.19 136.79 L271.28 136.70 L271.53 136.45 L271.78 136.20 L272.03 135.95 L272.28 135.71 L272.53 135.46 L272.78 135.21 L273.03 134.97 L273.28 134.72 L273.53 134.47 L273.78 134.23 L274.03 133.98 L274.28 133.73 L274.53 133.48 L274.78 133.23 L275.03 132.98 L275.28 132.73 L275.53 132.48 L275.73 132.28M279.57 128.57 L279.78 128.38 L280.03 128.16 L280.28 127.94 L280.53 127.72 L280.78 127.50 L281.03 127.29 L281.28 127.08 L281.53 126.88 L281.78 126.68 L282.03 126.47 L282.28 126.28 L282.53 126.08 L282.78 125.88 L283.03 125.69 L283.28 125.50 L283.53 125.30 L283.78 125.12 L284.03 124.93 L284.28 124.74 L284.53 124.56 L284.54 124.55M288.79 121.60 L289.03 121.44 L289.28 121.27 L289.53 121.11 L289.78 120.95 L290.03 120.79 L290.28 120.63 L290.53 120.47 L290.78 120.31 L291.03 120.15 L291.28 119.99 L291.53 119.83 L291.78 119.67 L292.03 119.52 L292.28 119.36 L292.53 119.21 L292.78 119.05 L293.03 118.90 L293.28 118.74 L293.53 118.59 L293.78 118.44 L294.03 118.29 L294.20 118.18M298.70 115.63 L298.78 115.59 L299.03 115.46 L299.28 115.33 L299.53 115.20 L299.78 115.07 L300.03 114.94 L300.28 114.81 L300.53 114.69 L300.78 114.56 L301.03 114.44 L301.28 114.32 L301.53 114.19 L301.78 114.07 L302.03 113.95 L302.28 113.83 L302.53 113.72 L302.78 113.60 L303.03 113.48 L303.28 113.37 L303.53 113.25 L303.78 113.14 L304.03 113.02 L304.28 112.91 L304.45 112.83M309.22 110.81 L309.28 110.79 L309.53 110.69 L309.78 110.59 L310.03 110.49 L310.28 110.39 L310.53 110.29 L310.78 110.20 L311.03 110.10 L311.28 110.00 L311.53 109.91 L311.78 109.81 L312.03 109.72 L312.28 109.63 L312.53 109.54 L312.78 109.44 L313.03 109.35 L313.28 109.26 L313.53 109.17 L313.78 109.08 L314.03 108.99 L314.28 108.90 L314.53 108.81 L314.78 108.73 L315.03 108.64 L315.21 108.57M320.24 106.82 L320.28 106.80 L320.53 106.71 L320.78 106.62 L321.03 106.54 L321.28 106.45 L321.53 106.36 L321.78 106.27 L322.03 106.18 L322.28 106.09 L322.53 106.00 L322.78 105.91 L323.03 105.82 L323.28 105.74 L323.53 105.65 L323.78 105.56 L324.03 105.47 L324.28 105.38 L324.53 105.29 L324.78 105.21 L325.03 105.12 L325.28 105.03 L325.53 104.94 L325.78 104.85 L326.03 104.77 L326.27 104.68M331.31 102.96 L331.53 102.89 L331.78 102.81 L332.03 102.73 L332.28 102.64 L332.53 102.56 L332.78 102.48 L333.03 102.40 L333.28 102.32 L333.53 102.24 L333.78 102.15 L334.03 102.07 L334.28 101.99 L334.53 101.91 L334.78 101.83 L335.03 101.75 L335.28 101.67 L335.53 101.59 L335.78 101.51 L336.03 101.43 L336.28 101.35 L336.53 101.27 L336.78 101.19 L337.03 101.11 L337.28 101.03 L337.40 100.99M342.48 99.39 L342.53 99.37 L342.78 99.30 L343.03 99.22 L343.28 99.14 L343.53 99.06 L343.78 98.98 L344.03 98.91 L344.28 98.83 L344.53 98.75 L344.78 98.68 L345.03 98.60 L345.28 98.52 L345.53 98.45 L345.78 98.37 L346.03 98.29 L346.28 98.22 L346.53 98.14 L346.78 98.06 L347.03 97.99 L347.28 97.91 L347.53 97.84 L347.78 97.76 L348.03 97.69 L348.28 97.61 L348.53 97.53 L348.60 97.51M353.70 95.99 L353.78 95.97 L354.03 95.89 L354.28 95.82 L354.53 95.74 L354.78 95.67 L355.03 95.59 L355.28 95.51 L355.53 95.44 L355.78 95.36 L356.03 95.28 L356.28 95.21 L356.53 95.13 L356.78 95.05 L357.03 94.98 L357.28 94.90 L357.53 94.82 L357.78 94.75 L358.03 94.67 L358.28 94.59 L358.53 94.52 L358.78 94.44 L359.03 94.36 L359.28 94.29 L359.53 94.21 L359.78 94.14 L359.82 94.13M364.95 92.71 L365.03 92.69 L365.28 92.62 L365.53 92.56 L365.78 92.49 L366.03 92.43 L366.28 92.36 L366.53 92.30 L366.78 92.24 L367.03 92.17 L367.28 92.11 L367.53 92.04 L367.78 91.98 L368.03 91.92 L368.28 91.86 L368.53 91.79 L368.78 91.73 L369.03 91.67 L369.28 91.61 L369.53 91.54 L369.78 91.48 L370.03 91.42 L370.28 91.36 L370.53 91.30 L370.78 91.24 L371.03 91.17 L371.16 91.14M376.33 89.87 L376.53 89.83 L376.78 89.76 L377.03 89.70 L377.28 89.64 L377.53 89.58 L377.78 89.52 L378.03 89.46 L378.28 89.40 L378.53 89.34 L378.78 89.28 L379.03 89.22 L379.28 89.16 L379.53 89.10 L379.78 89.04 L380.03 88.98 L380.28 88.92 L380.53 88.86 L380.78 88.80 L381.03 88.74 L381.28 88.68 L381.53 88.62 L381.78 88.56 L382.03 88.50 L382.28 88.44 L382.53 88.38 L382.55 88.37M387.73 87.15 L387.78 87.14 L388.03 87.08 L388.28 87.02 L388.53 86.97 L388.78 86.91 L389.03 86.85 L389.28 86.79 L389.53 86.73 L389.78 86.67 L390.03 86.61 L390.28 86.56 L390.53 86.50 L390.78 86.44 L391.03 86.38 L391.28 86.32 L391.53 86.26 L391.78 86.21 L392.03 86.15 L392.28 86.09 L392.53 86.03 L392.78 85.98 L393.03 85.92 L393.28 85.86 L393.53 85.80 L393.78 85.75 L393.97 85.70M399.16 84.51 L399.28 84.48 L399.53 84.42 L399.78 84.37 L400.03 84.31 L400.28 84.25 L400.53 84.19 L400.78 84.14 L401.03 84.08 L401.28 84.02 L401.53 83.96 L401.78 83.91 L402.03 83.85 L402.28 83.79 L402.53 83.73 L402.78 83.67 L403.03 83.62 L403.28 83.56 L403.53 83.50 L403.78 83.44 L404.03 83.39 L404.28 83.33 L404.53 83.27 L404.78 83.21 L405.03 83.16 L405.28 83.10 L405.39 83.07M410.58 81.88 L410.78 81.83 L411.03 81.77 L411.28 81.72 L411.53 81.66 L411.78 81.60 L412.03 81.54 L412.28 81.49 L412.53 81.43 L412.78 81.37 L413.03 81.31 L413.28 81.25 L413.53 81.20 L413.78 81.14 L414.03 81.08 L414.28 81.02 L414.53 80.97 L414.78 80.91 L415.03 80.85 L415.28 80.79 L415.53 80.74 L415.78 80.68 L416.03 80.62 L416.28 80.56 L416.53 80.51 L416.78 80.45 L416.82 80.44M421.86 79.28 L422.03 79.24 L422.28 79.18 L422.53 79.12 L422.78 79.06 L423.03 79.01 L423.28 78.95 L423.53 78.89 L423.78 78.83 L424.03 78.78 L424.28 78.72 L424.53 78.66 L424.78 78.60 L425.03 78.55 L425.28 78.49 L425.53 78.43 L425.78 78.37 L426.03 78.31 L426.28 78.26 L426.53 78.20 L426.78 78.14 L427.03 78.08 L427.28 78.03 L427.53 77.97 L427.78 77.91 L428.03 77.85 L428.10 77.84M433.15 76.68 L433.28 76.65 L433.53 76.60 L433.78 76.54 L434.03 76.48 L434.28 76.43 L434.53 76.37 L434.78 76.31 L435.03 76.26 L435.28 76.20 L435.53 76.14 L435.78 76.09 L436.03 76.03 L436.28 75.97 L436.53 75.92 L436.78 75.86 L437.03 75.80 L437.28 75.75 L437.53 75.69 L437.78 75.64 L438.03 75.58 L438.28 75.52 L438.53 75.47 L438.78 75.41 L439.03 75.35 L439.28 75.30 L439.39 75.27M444.46 74.24 L444.50 74.24 L444.75 74.21 L445.00 74.18 L445.25 74.15 L445.50 74.12 L445.75 74.09 L446.00 74.06 L446.25 74.03 L446.50 74.00 L446.75 74.07 L447.00 74.14 L447.25 74.21 L447.50 74.28 L447.75 74.35 L448.00 74.42 L448.25 74.49 L448.50 74.56 L448.75 74.63 L449.00 74.70 L449.26 74.77 L449.51 74.84 L449.77 74.92 L450.02 74.99 L450.28 75.06 L450.53 75.13 L450.68 75.18M455.82 76.63 L455.89 76.66 L456.14 76.73 L456.40 76.80 L456.65 76.87 L456.90 76.94 L457.15 77.01 L457.41 77.08 L457.66 77.15 L457.91 77.22 L458.16 77.30 L458.41 77.37 L458.66 77.44 L458.91 77.51 L459.17 77.58 L459.42 77.65 L459.67 77.72 L459.92 77.79 L460.17 77.86 L460.42 77.93 L460.67 78.00 L460.93 78.07 L461.18 78.14 L461.43 78.21 L461.68 78.28 L461.93 78.36 L461.98 78.37M467.12 79.81 L467.21 79.84 L467.46 79.91 L467.71 79.98 L467.97 80.05 L468.22 80.12 L468.47 80.19 L468.72 80.27 L468.97 80.34 L469.22 80.41 L469.47 80.48 L469.73 80.55 L469.98 80.62 L470.23 80.69 L470.48 80.76 L470.73 80.83 L470.98 80.90 L471.23 80.97 L471.49 81.04 L471.74 81.11 L471.99 81.18 L472.24 81.25 L472.49 81.33 L472.74 81.40 L472.99 81.47 L473.25 81.54 L473.28 81.55M478.53 83.02 L478.78 83.09 L479.03 83.16 L479.28 83.23 L479.53 83.31 L479.78 83.38 L480.03 83.45 L480.29 83.52 L480.54 83.59 L480.79 83.66 L481.04 83.73 L481.29 83.80 L481.54 83.87 L481.79 83.94 L482.05 84.01 L482.30 84.08 L482.55 84.15 L482.80 84.23 L483.05 84.30 L483.30 84.37 L483.55 84.44 L483.81 84.51 L484.06 84.58 L484.31 84.65 L484.56 84.72 L484.69 84.76M489.93 86.23 L490.09 86.28 L490.34 86.35 L490.59 86.42 L490.85 86.49 L491.10 86.56 L491.35 86.63 L491.60 86.70 L491.86 86.77 L492.12 86.84 L492.38 86.91 L492.64 86.98 L492.89 87.05 L493.15 87.12 L493.41 87.19 L493.67 87.26 L493.93 87.34 L494.19 87.41 L494.45 87.48 L494.71 87.55 L494.96 87.62 L495.22 87.69 L495.48 87.76 L495.74 87.83 L496.00 87.90" stroke="#1aa564"/>
</g>
<circle cx="305.8" cy="100.5" r="3.80" fill="#dcfa00"/>
<circle cx="375.9" cy="130.8" r="3.80" fill="#dcfa00"/>
<circle cx="384.2" cy="133.1" r="3.80" fill="#dcfa00"/>
<circle cx="388.3" cy="133.4" r="3.80" fill="#dcfa00"/>
<circle cx="305.8" cy="100.5" r="3.80" fill="none" stroke="#000" stroke-width="1.20"/>
<circle cx="375.9" cy="130.8" r="3.80" fill="none" stroke="#000" stroke-width="1.20"/>
<circle cx="384.2" cy="133.1" r="3.80" fill="none" stroke="#000" stroke-width="1.20"/>
<circle cx="388.3" cy="133.4" r="3.80" fill="none" stroke="#000" stroke-width="1.20"/>
<circle cx="382.8" cy="112.3" r="3.80" fill="#e67a00"/>
<circle cx="389.4" cy="117.0" r="3.80" fill="#e67a00"/>
<circle cx="382.8" cy="112.3" r="3.80" fill="none" stroke="#000" stroke-width="1.20"/>
<circle cx="389.4" cy="117.0" r="3.80" fill="none" stroke="#000" stroke-width="1.20"/>
<circle cx="385.9" cy="110.1" r="3.80" fill="#ff2000"/>
<circle cx="389.1" cy="115.1" r="3.80" fill="#ff2000"/>
<circle cx="385.9" cy="110.1" r="3.80" fill="none" stroke="#000" stroke-width="1.20"/>
<circle cx="389.1" cy="115.1" r="3.80" fill="none" stroke="#000" stroke-width="1.20"/>
<polygon points="384.10 80.70 385.96 86.43 391.99 86.44 387.12 89.98 388.98 95.71 384.10 92.17 379.22 95.71 381.08 89.98 376.21 86.44 382.24 86.43" fill="#1aa564" stroke="#000" stroke-width="1.4" stroke-linejoin="miter" stroke-miterlimit="2"/>
<rect x="67.30" y="11.57" width="424.60" height="316.53" stroke="#000" stroke-width="1.35" stroke-linejoin="round" fill="none"/>
<path d="M92.86 328.10v-3.4M92.86 11.57v3.4M107.82 328.10v-3.4M107.82 11.57v3.4M118.43 328.10v-3.4M118.43 11.57v3.4M126.66 328.10v-3.4M126.66 11.57v3.4M133.38 328.10v-3.4M133.38 11.57v3.4M139.07 328.10v-3.4M139.07 11.57v3.4M143.99 328.10v-3.4M143.99 11.57v3.4M148.33 328.10v-3.4M148.33 11.57v3.4M152.22 328.10v-6.8M152.22 11.57v6.8M177.78 328.10v-3.4M177.78 11.57v3.4M192.74 328.10v-3.4M192.74 11.57v3.4M203.35 328.10v-3.4M203.35 11.57v3.4M211.58 328.10v-3.4M211.58 11.57v3.4M218.30 328.10v-3.4M218.30 11.57v3.4M223.99 328.10v-3.4M223.99 11.57v3.4M228.91 328.10v-3.4M228.91 11.57v3.4M233.25 328.10v-3.4M233.25 11.57v3.4M237.14 328.10v-6.8M237.14 11.57v6.8M262.70 328.10v-3.4M262.70 11.57v3.4M277.66 328.10v-3.4M277.66 11.57v3.4M288.27 328.10v-3.4M288.27 11.57v3.4M296.50 328.10v-3.4M296.50 11.57v3.4M303.22 328.10v-3.4M303.22 11.57v3.4M308.91 328.10v-3.4M308.91 11.57v3.4M313.83 328.10v-3.4M313.83 11.57v3.4M318.17 328.10v-3.4M318.17 11.57v3.4M322.06 328.10v-6.8M322.06 11.57v6.8M347.62 328.10v-3.4M347.62 11.57v3.4M362.58 328.10v-3.4M362.58 11.57v3.4M373.19 328.10v-3.4M373.19 11.57v3.4M381.42 328.10v-3.4M381.42 11.57v3.4M388.14 328.10v-3.4M388.14 11.57v3.4M393.83 328.10v-3.4M393.83 11.57v3.4M398.75 328.10v-3.4M398.75 11.57v3.4M403.09 328.10v-3.4M403.09 11.57v3.4M406.98 328.10v-6.8M406.98 11.57v6.8M432.54 328.10v-3.4M432.54 11.57v3.4M447.50 328.10v-3.4M447.50 11.57v3.4M458.11 328.10v-3.4M458.11 11.57v3.4M466.34 328.10v-3.4M466.34 11.57v3.4M473.06 328.10v-3.4M473.06 11.57v3.4M478.75 328.10v-3.4M478.75 11.57v3.4M483.67 328.10v-3.4M483.67 11.57v3.4M488.01 328.10v-3.4M488.01 11.57v3.4M67.30 288.53h8.4M491.90 288.53h-8.4M67.30 248.97h4.6M491.90 248.97h-4.6M67.30 209.40h8.4M491.90 209.40h-8.4M67.30 169.84h4.6M491.90 169.84h-4.6M67.30 130.27h8.4M491.90 130.27h-8.4M67.30 90.70h4.6M491.90 90.70h-4.6M67.30 51.14h8.4M491.90 51.14h-8.4" stroke="#000" stroke-width="1.4" fill="none"/>
<path d="M93.0 39.2H123.1" stroke="#000" stroke-width="2.5"/>
<path d="M92.7 57.3H123.1" stroke="#000" stroke-width="2.5" stroke-dasharray="6.0 5.8"/>
<g font-family="'Liberation Serif', serif" fill="#000" stroke="#000" stroke-width="0.3" style="will-change:transform;opacity:0.999">
<text transform="translate(127.90 41.80) scale(1.000 1)" font-size="15.5" text-anchor="start">p</text>
<text transform="translate(139.60 41.80) scale(1.080 1)" font-size="15.5" text-anchor="start">=</text>
<text transform="translate(153.00 41.80) scale(0.890 1)" font-size="15.5" text-anchor="start">2.1</text>
<text transform="translate(127.90 59.70) scale(1.000 1)" font-size="15.5" text-anchor="start">p</text>
<text transform="translate(139.60 59.70) scale(1.080 1)" font-size="15.5" text-anchor="start">=</text>
<text transform="translate(153.00 59.70) scale(0.890 1)" font-size="15.5" text-anchor="start">1.67</text>
<text transform="translate(279.90 372.70) scale(0.900 1)" font-size="15.5" text-anchor="middle">Time [s]</text>
<text transform="translate(27.30 169.50) rotate(-90) scale(0.900 1)" font-size="15.5" text-anchor="middle">Flux [mJy]</text>
<text transform="translate(67.60 352.90) scale(0.840 1)" font-size="16.3" text-anchor="middle">10<tspan font-size="10.1" dy="-7.7">1</tspan></text>
<text transform="translate(152.52 352.90) scale(0.840 1)" font-size="16.3" text-anchor="middle">10<tspan font-size="10.1" dy="-7.7">2</tspan></text>
<text transform="translate(237.44 352.90) scale(0.840 1)" font-size="16.3" text-anchor="middle">10<tspan font-size="10.1" dy="-7.7">3</tspan></text>
<text transform="translate(322.36 352.90) scale(0.840 1)" font-size="16.3" text-anchor="middle">10<tspan font-size="10.1" dy="-7.7">4</tspan></text>
<text transform="translate(407.28 352.90) scale(0.840 1)" font-size="16.3" text-anchor="middle">10<tspan font-size="10.1" dy="-7.7">5</tspan></text>
<text transform="translate(492.20 352.90) scale(0.840 1)" font-size="16.3" text-anchor="middle">10<tspan font-size="10.1" dy="-7.7">6</tspan></text>
<text transform="translate(62.90 58.34) scale(0.840 1)" font-size="16.3" text-anchor="end">10<tspan font-size="10.1" dy="-7.7">0</tspan></text>
<text transform="translate(62.90 137.47) scale(0.840 1)" font-size="16.3" text-anchor="end">10<tspan font-size="10.1" dy="-7.7">-2</tspan></text>
<text transform="translate(62.90 216.60) scale(0.840 1)" font-size="16.3" text-anchor="end">10<tspan font-size="10.1" dy="-7.7">-4</tspan></text>
<text transform="translate(62.90 295.73) scale(0.840 1)" font-size="16.3" text-anchor="end">10<tspan font-size="10.1" dy="-7.7">-6</tspan></text>
</g>
</svg>
</body></html>
